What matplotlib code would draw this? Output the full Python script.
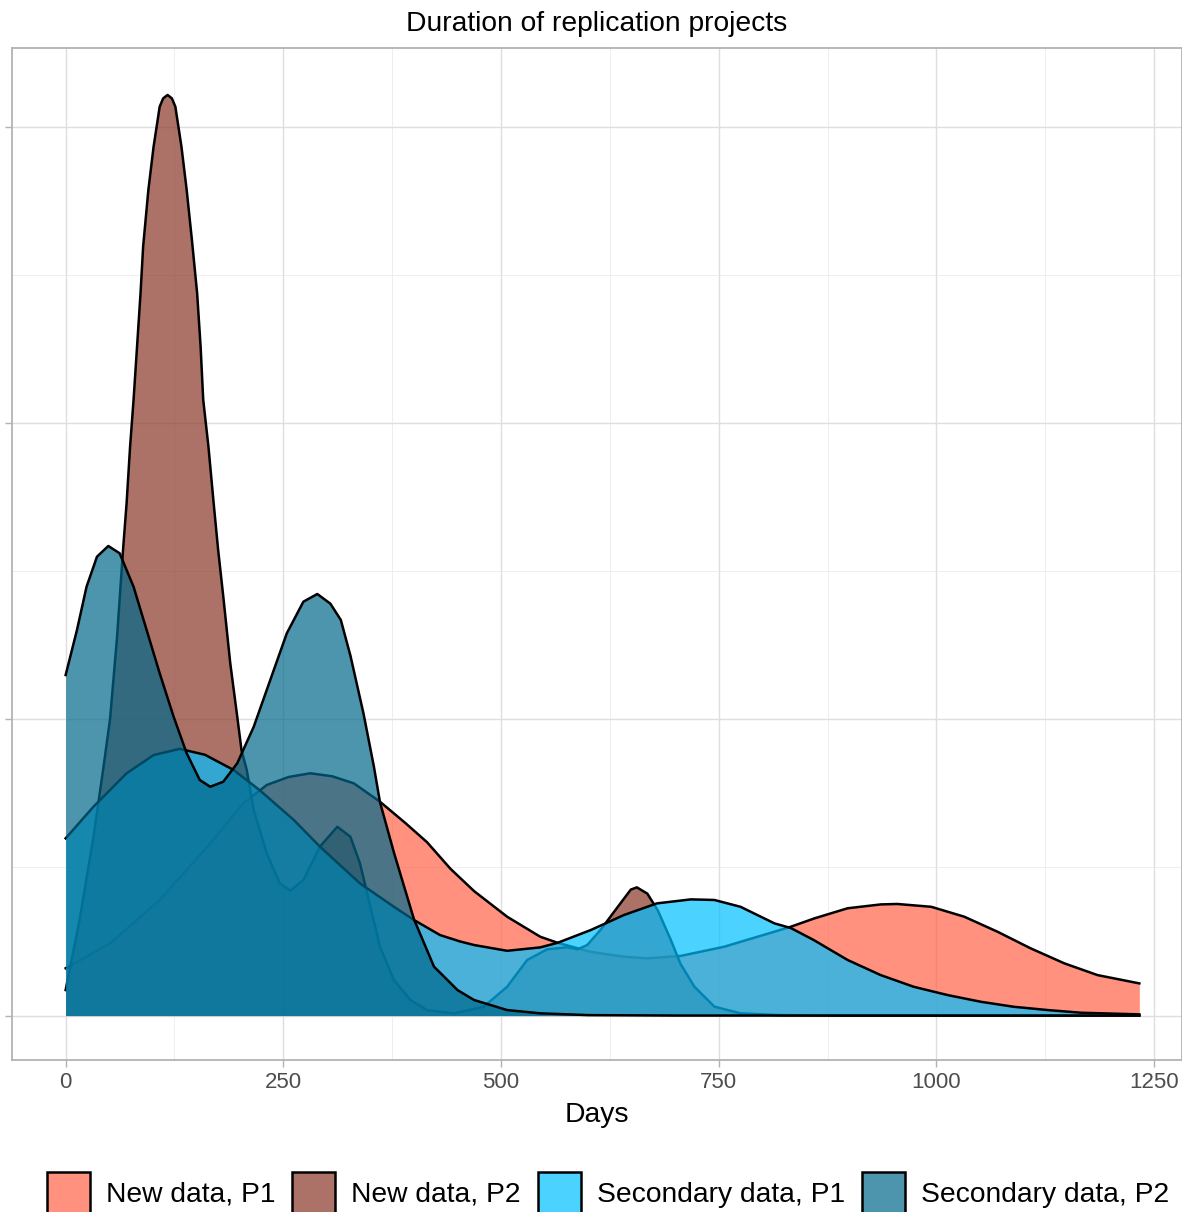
import numpy as np
import matplotlib.pyplot as plt
from matplotlib.patches import Patch
from matplotlib.colors import to_rgba

plt.rcParams['font.family'] = ['Liberation Sans', 'DejaVu Sans']

# densities, in units of 1e-3 per day
new_p1_days = [0, 51, 108, 166, 204, 231, 256, 281, 306, 331, 361, 390, 415, 442, 469, 507, 545,
               565, 603, 641, 668, 706, 756, 814, 833, 860, 898, 936, 955, 994, 1032, 1070, 1108,
               1147, 1185, 1233]
new_p1_dens = [0.319, 0.487, 0.78, 1.162, 1.432, 1.556, 1.61, 1.635, 1.615, 1.567, 1.443, 1.30,
               1.17, 0.99, 0.84, 0.667, 0.532, 0.491, 0.43, 0.397, 0.386, 0.402, 0.464, 0.566, 0.60,
               0.656, 0.724, 0.75, 0.753, 0.734, 0.667, 0.566, 0.454, 0.352, 0.273, 0.217]

new_p2_days = [0, 16, 32, 43, 51, 59, 66, 70, 74, 78, 82, 86, 89, 95, 101, 108, 112, 117, 122, 126,
               133, 139, 145, 151, 155, 158, 164, 170, 175, 181, 189, 197, 202, 208, 216, 231, 246,
               258, 273, 292, 312, 327, 338, 350, 361, 377, 396, 415, 446, 480, 507, 530, 553, 576,
               588, 599, 614, 634, 649, 656, 668, 680, 695, 706, 722, 745, 775, 820, 900, 1233]
new_p2_dens = [0.172, 0.645, 1.207, 1.657, 2.0, 2.55, 3.15, 3.457, 3.839, 4.155, 4.514, 4.875, 5.19,
               5.572, 5.864, 6.134, 6.19, 6.213, 6.19, 6.134, 5.864, 5.572, 5.235, 4.875, 4.514,
               4.155, 3.839, 3.457, 3.15, 2.83, 2.38, 2.02, 1.79, 1.657, 1.387, 1.095, 0.892, 0.843,
               0.915, 1.14, 1.274, 1.207, 1.027, 0.734, 0.464, 0.24, 0.105, 0.037, 0.015, 0.059,
               0.194, 0.375, 0.447, 0.461, 0.447, 0.476, 0.576, 0.733, 0.85, 0.865, 0.823, 0.71,
               0.51, 0.35, 0.195, 0.06, 0.015, 0.003, 0.0, 0.0]

sec_p1_days = [0, 32, 70, 101, 131, 160, 193, 223, 262, 292, 338, 377, 400, 430, 453, 469, 507,
               545, 565, 603, 641, 679, 718, 745, 775, 814, 833, 859, 898, 936, 974, 1013, 1051,
               1089, 1128, 1166, 1233]
sec_p1_dens = [1.196, 1.41, 1.635, 1.758, 1.80, 1.76, 1.657, 1.52, 1.32, 1.14, 0.892, 0.734, 0.645,
               0.543, 0.50, 0.476, 0.437, 0.46, 0.491, 0.577, 0.678, 0.757, 0.784, 0.78, 0.734,
               0.622, 0.59, 0.51, 0.375, 0.273, 0.194, 0.138, 0.093, 0.059, 0.037, 0.019, 0.008]

sec_p2_days = [0, 13, 24, 36, 49, 62, 78, 93, 108, 124, 139, 154, 166, 181, 197, 216, 235, 254, 273,
               289, 304, 316, 327, 342, 354, 361, 377, 400, 423, 450, 469, 507, 545, 600, 700, 1233]
sec_p2_dens = [2.298, 2.602, 2.894, 3.097, 3.169, 3.12, 2.894, 2.602, 2.31, 2.017, 1.77, 1.59, 1.544,
               1.578, 1.702, 1.949, 2.265, 2.58, 2.793, 2.845, 2.78, 2.67, 2.43, 2.04, 1.68, 1.44,
               1.10, 0.65, 0.33, 0.172, 0.105, 0.037, 0.015, 0.003, 0.0, 0.0]

labels = ["New data, P1", "New data, P2", "Secondary data, P1", "Secondary data, P2"]
colors = ["tomato", "#8B3626", "deepskyblue", "#00688B"]
series = [(new_p1_days, new_p1_dens), (new_p2_days, new_p2_dens),
          (sec_p1_days, sec_p1_dens), (sec_p2_days, sec_p2_dens)]

fig = plt.figure(figsize=(11.82, 12.12), dpi=100)
ax = fig.add_axes([12 / 1182, 1 - 1060 / 1212, 1170 / 1182, 1012 / 1212])

for (d, y), c in zip(series, colors):
    d = np.array(d)
    y = np.array(y) * 1e-3
    ax.fill_between(d, y, color=to_rgba(c, 0.7), lw=0, zorder=2)
    ax.plot(d, y, color="black", lw=1.8, zorder=2, solid_joinstyle="round")

ax.set_xlim(-61.6, 1282)
ax.set_ylim(-0.30e-3, 6.53e-3)
ax.set_xticks([0, 250, 500, 750, 1000, 1250])
ax.set_xticks([125, 375, 625, 875, 1125], minor=True)
ax.set_yticks([0, 2e-3, 4e-3, 6e-3])
ax.set_yticks([1e-3, 3e-3, 5e-3], minor=True)
ax.set_yticklabels([])
ax.grid(which="major", color="#DEDEDE", lw=1.0, zorder=0)
ax.grid(which="minor", color="#EBEBEB", lw=0.6, zorder=0)
ax.set_axisbelow(True)
for s in ax.spines.values():
    s.set_color("#B3B3B3")
    s.set_linewidth(1.3)
ax.tick_params(which="major", length=5, width=1.0, color="#B3B3B3",
               labelsize=16, labelcolor="#4D4D4D", pad=4)
ax.tick_params(which="minor", length=0)
ax.set_xlabel("Days", fontsize=20.3, labelpad=6)
ax.set_title("Duration of replication projects", fontsize=20.3, pad=12)

handles = [Patch(facecolor=to_rgba(c, 0.7), edgecolor="black", linewidth=1.8) for c in colors]
fig.legend(handles, labels, loc="upper left", bbox_to_anchor=(47 / 1182, 1 - 1172 / 1212),
           ncol=4, frameon=False, fontsize=20.3, handlelength=1.52, handleheight=1.87,
           handletextpad=0.57, columnspacing=0.6, borderpad=0, borderaxespad=0)

plt.savefig("out.png", dpi=100)
